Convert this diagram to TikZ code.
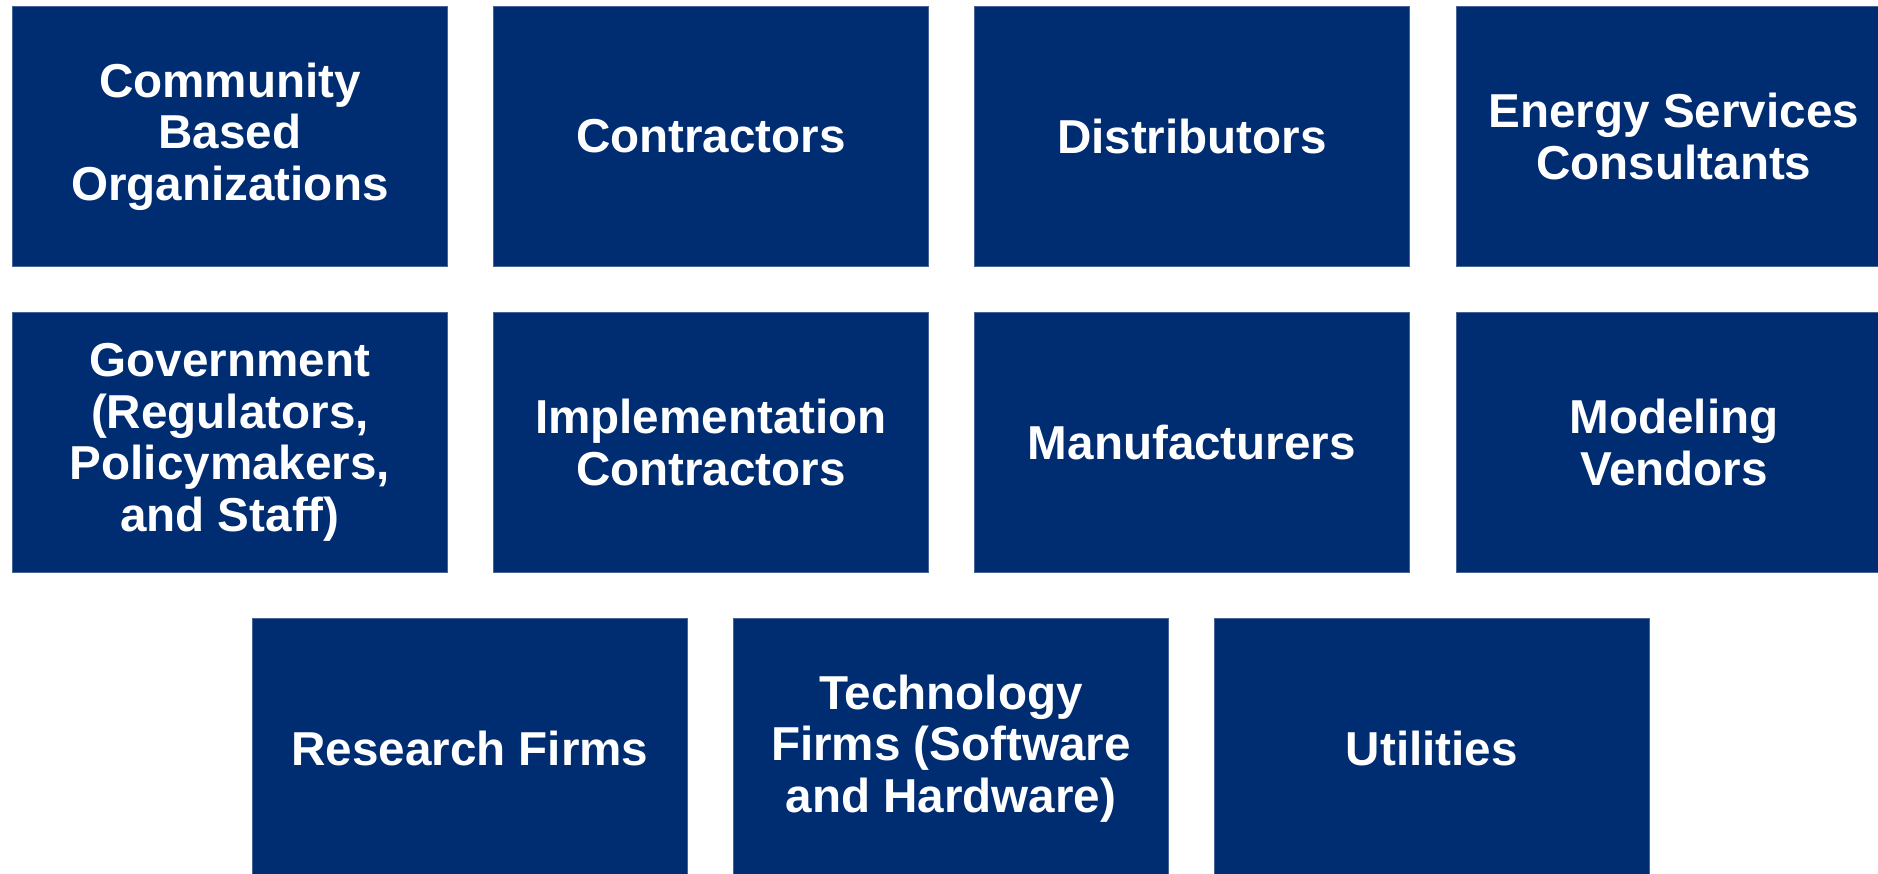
\documentclass[tikz,border=0pt]{standalone}
\usepackage{fontspec}
\setmainfont{Liberation Sans}
\definecolor{navy}{RGB}{0,45,114}
\definecolor{edge}{RGB}{70,100,150}
\begin{document}
\begin{tikzpicture}[x=1pt,y=-1pt,
  tile/.style={fill=navy,draw=edge,line width=0.8pt,minimum width=435pt,minimum height=260pt,
    anchor=north west,inner sep=0pt,text=white,align=center,
    font=\fontsize{47.6}{51.5}\selectfont\bfseries}]
\useasboundingbox (0,0) rectangle (1878,874);
\begin{scope}
\clip (0,0) rectangle (1878,874);
\node[tile] (cbo) at (12,6) {Community\\Based\\Organizations};
\node[tile] (con) at (493,6) {Contractors};
\node[tile] (dis) at (974,6) {Distributors};
\node[tile] (esc) at (1456,6) {Energy Services\\Consultants};
\node[tile] (gov) at (12,312) {Government\\(Regulators,\\Policymakers,\\and Staff)};
\node[tile] (imp) at (493,312) {Implementation\\Contractors};
\node[tile] (man) at (974,312) {Manufacturers};
\node[tile] (mod) at (1456,312) {Modeling\\Vendors};
\node[tile] (res) at (252,618) {Research Firms};
\node[tile] (tec) at (733,618) {Technology\\Firms (Software\\and Hardware)};
\node[tile] (uti) at (1214,618) {Utilities};
\end{scope}
\end{tikzpicture}
\end{document}
